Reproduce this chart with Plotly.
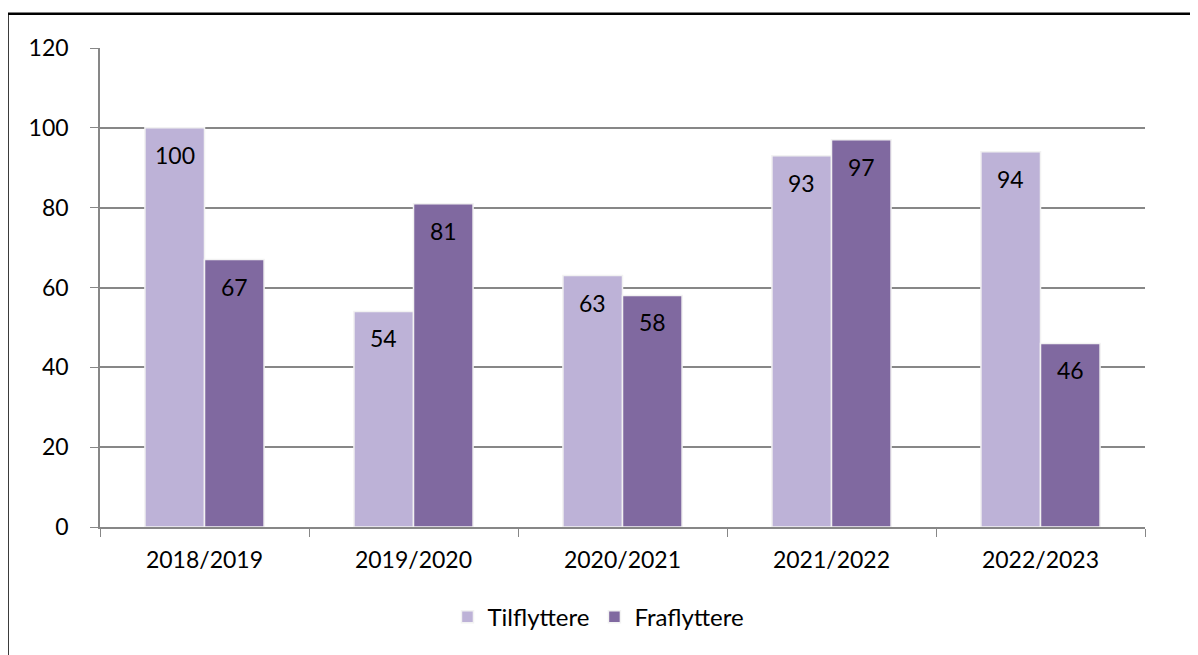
import plotly.graph_objects as go

categories = ["2018/2019", "2019/2020", "2020/2021", "2021/2022", "2022/2023"]
tilflyttere = [100, 54, 63, 93, 94]
fraflyttere = [67, 81, 58, 97, 46]
series_names = ["Tilflyttere", "Fraflyttere"]
y_ticks = [0, 20, 40, 60, 80, 100, 120]

FONT = "Lato, 'Open Sans', sans-serif"
GRID = "#878787"
COLORS = ["#BDB2D7", "#8069A0"]

fig = go.Figure()
for name, vals, col in [(series_names[0], tilflyttere, COLORS[0]),
                        (series_names[1], fraflyttere, COLORS[1])]:
    fig.add_trace(go.Bar(
        name=name, x=categories, y=vals,
        marker=dict(color=col, line=dict(color="#F2F2F2", width=1.5)),
    ))

annotations = []
for vals, shift in [(tilflyttere, -30), (fraflyttere, 30)]:
    for c, v in zip(categories, vals):
        annotations.append(dict(x=c, y=v, xref="x", yref="y", text=str(v),
                                showarrow=False, xshift=shift, yshift=-27,
                                yanchor="middle",
                                font=dict(family=FONT, size=23, color="black")))

fig.update_layout(
    width=1190, height=647,
    margin=dict(l=92, r=53, t=40, b=128),
    paper_bgcolor="white", plot_bgcolor="white",
    barmode="group", bargap=0.43, bargroupgap=0.0,
    font=dict(family=FONT, size=23, color="black"),
    showlegend=True,
    legend=dict(orientation="h", x=0.477, xanchor="center", y=-0.188, yanchor="middle",
                font=dict(family=FONT, size=24), itemwidth=30, traceorder="normal"),
    xaxis=dict(tickson="boundaries", ticks="outside", ticklen=8, tickcolor=GRID,
               showline=True, linecolor=GRID, linewidth=1.5, showgrid=False,
               ticklabelstandoff=12, tickfont=dict(family=FONT, size=23)),
    yaxis=dict(range=[0, 120], tickvals=y_ticks, ticks="outside", ticklen=8,
               tickcolor=GRID, showline=True, linecolor=GRID, linewidth=1.5,
               showgrid=True, gridcolor=GRID, gridwidth=1.5, zeroline=False,
               ticklabelstandoff=17, tickfont=dict(family=FONT, size=23)),
    annotations=annotations,
    shapes=[dict(type="rect", xref="paper", yref="paper",
                 x0=-0.0885, x1=1.2, y0=-0.4, y1=1.0715,
                 line=dict(color="black", width=2.5), fillcolor="rgba(0,0,0,0)",
                 layer="above")],
)

fig.write_html("out.html")
